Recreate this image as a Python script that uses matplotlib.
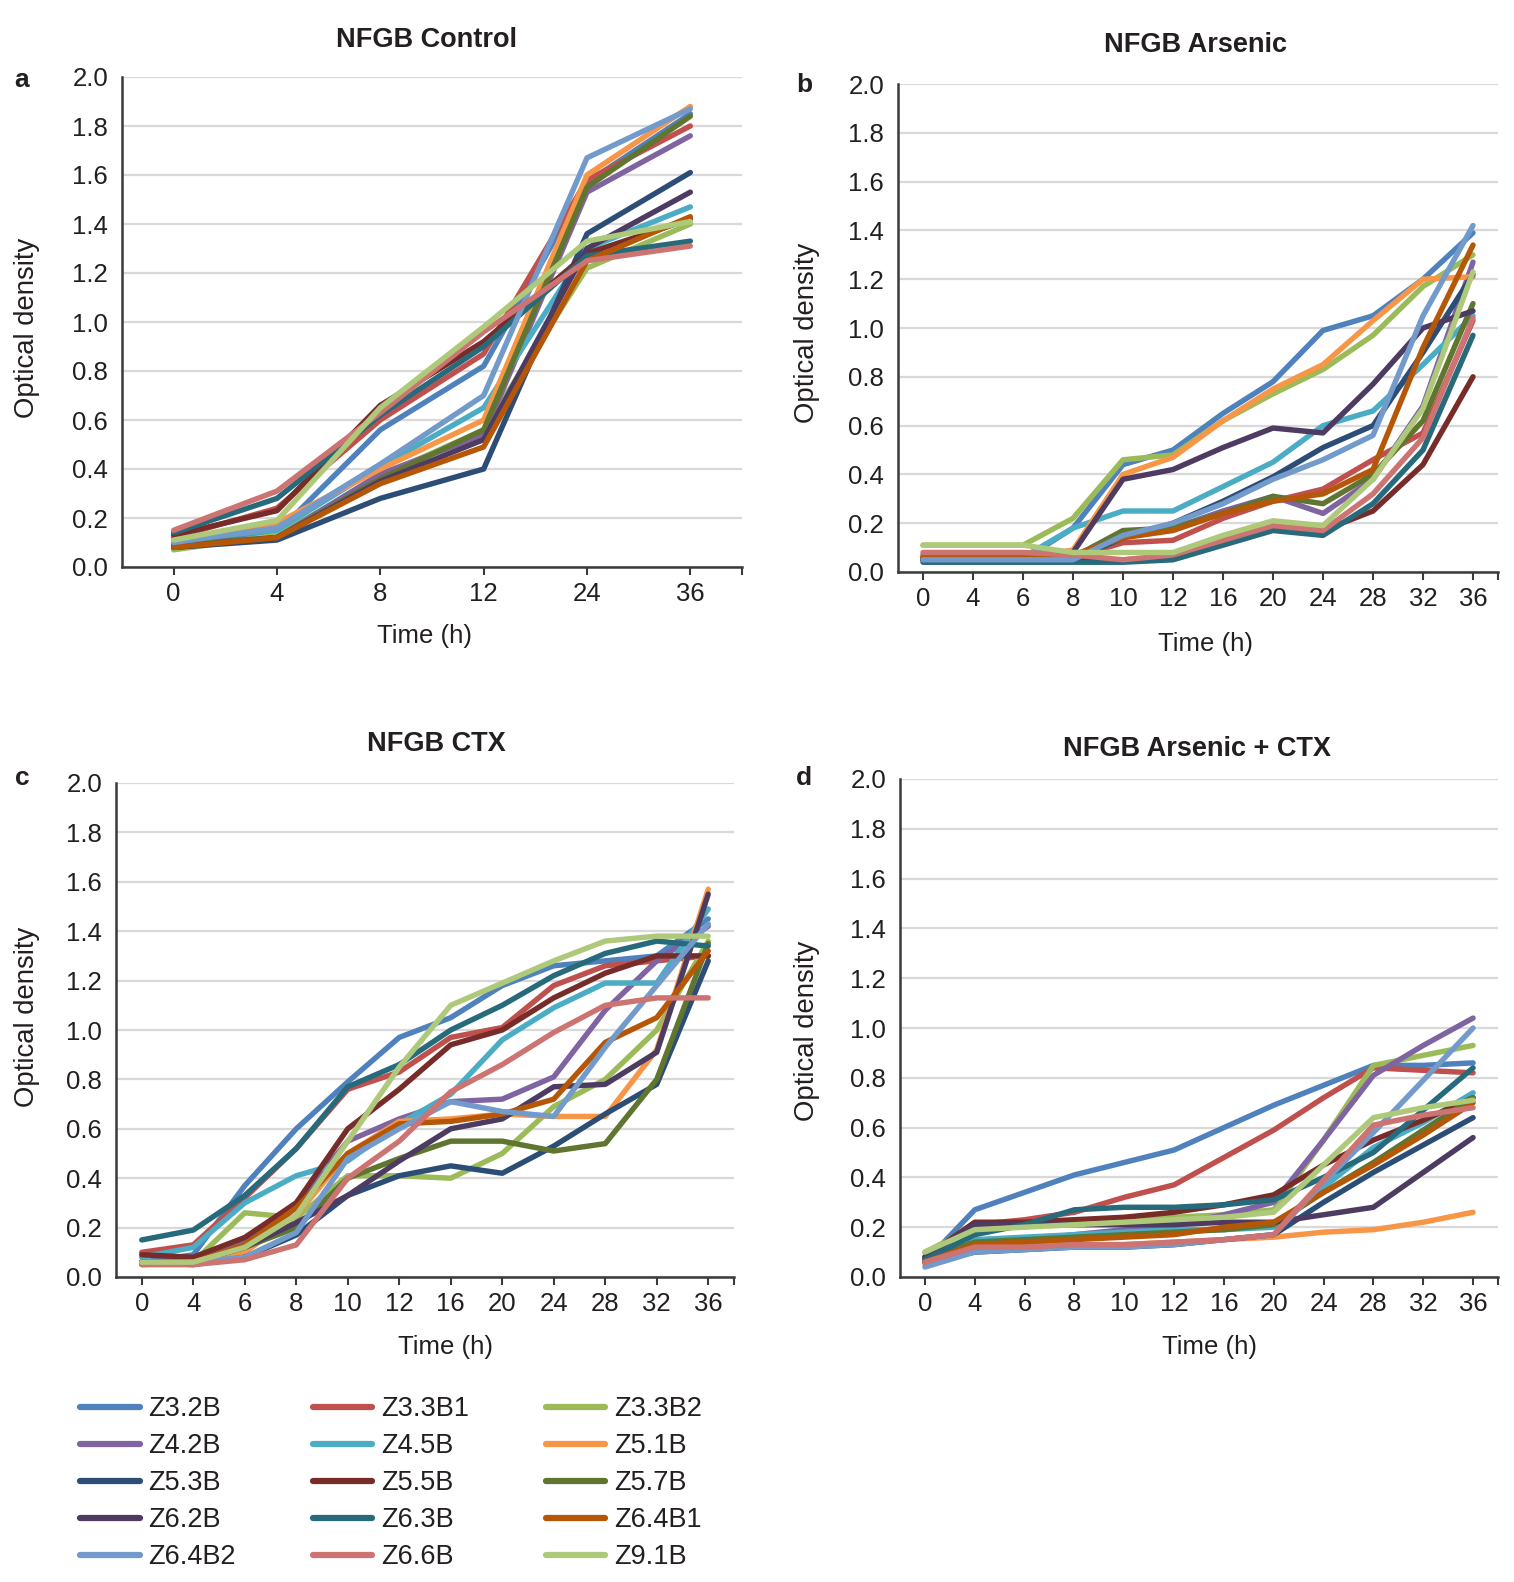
import matplotlib
matplotlib.use("Agg")
import matplotlib.pyplot as plt
from matplotlib.lines import Line2D

plt.rcParams['font.family'] = ['Liberation Sans', 'DejaVu Sans']

# strains and Excel-style colours
strains = ['Z3.2B', 'Z3.3B1', 'Z3.3B2', 'Z4.2B', 'Z4.5B', 'Z5.1B', 'Z5.3B', 'Z5.5B',
           'Z5.7B', 'Z6.2B', 'Z6.3B', 'Z6.4B1', 'Z6.4B2', 'Z6.6B', 'Z9.1B']
colors = ['#4F81BD', '#C0504D', '#9BBB59', '#8064A2', '#4BACC6', '#F79646', '#2C4D75',
          '#772C2A', '#5F7530', '#4D3B62', '#276A7C', '#B65708', '#729ACA', '#CD7371',
          '#AFC97A']

time_short = ['0', '4', '8', '12', '24', '36']
time_long = ['0', '4', '6', '8', '10', '12', '16', '20', '24', '28', '32', '36']

# a - NFGB Control (one row per strain, same order as strains)
control_od = [
    [0.10, 0.14, 0.56, 0.82, 1.57, 1.85],
    [0.12, 0.24, 0.60, 0.87, 1.58, 1.80],
    [0.07, 0.13, 0.37, 0.56, 1.22, 1.40],
    [0.09, 0.12, 0.38, 0.54, 1.53, 1.76],
    [0.11, 0.15, 0.41, 0.65, 1.30, 1.47],
    [0.10, 0.18, 0.40, 0.60, 1.60, 1.88],
    [0.08, 0.11, 0.28, 0.40, 1.36, 1.61],
    [0.13, 0.23, 0.66, 0.92, 1.28, 1.42],
    [0.09, 0.12, 0.36, 0.56, 1.55, 1.84],
    [0.08, 0.12, 0.35, 0.52, 1.30, 1.53],
    [0.14, 0.28, 0.62, 0.90, 1.27, 1.33],
    [0.08, 0.12, 0.34, 0.49, 1.25, 1.43],
    [0.10, 0.16, 0.42, 0.70, 1.67, 1.87],
    [0.15, 0.31, 0.63, 0.96, 1.25, 1.31],
    [0.11, 0.19, 0.65, 0.98, 1.33, 1.41],
]

# b - NFGB Arsenic
arsenic_od = [
    [0.05, 0.05, 0.05, 0.18, 0.44, 0.50, 0.65, 0.78, 0.99, 1.05, 1.20, 1.39],
    [0.07, 0.07, 0.07, 0.06, 0.12, 0.13, 0.22, 0.29, 0.34, 0.46, 0.57, 1.03],
    [0.11, 0.11, 0.11, 0.22, 0.46, 0.48, 0.62, 0.73, 0.83, 0.97, 1.17, 1.30],
    [0.05, 0.05, 0.05, 0.06, 0.16, 0.18, 0.25, 0.31, 0.24, 0.38, 0.68, 1.27],
    [0.06, 0.06, 0.06, 0.18, 0.25, 0.25, 0.35, 0.45, 0.60, 0.66, 0.85, 1.05],
    [0.06, 0.06, 0.06, 0.09, 0.40, 0.47, 0.62, 0.75, 0.85, 1.03, 1.20, 1.21],
    [0.05, 0.05, 0.05, 0.05, 0.14, 0.20, 0.29, 0.39, 0.51, 0.60, 0.90, 1.22],
    [0.05, 0.05, 0.05, 0.05, 0.05, 0.06, 0.12, 0.18, 0.17, 0.25, 0.44, 0.80],
    [0.06, 0.06, 0.06, 0.06, 0.17, 0.18, 0.24, 0.31, 0.28, 0.40, 0.62, 1.10],
    [0.05, 0.05, 0.05, 0.08, 0.38, 0.42, 0.51, 0.59, 0.57, 0.77, 1.00, 1.07],
    [0.04, 0.04, 0.04, 0.04, 0.04, 0.05, 0.11, 0.17, 0.15, 0.28, 0.50, 0.97],
    [0.06, 0.06, 0.06, 0.07, 0.14, 0.17, 0.24, 0.29, 0.32, 0.42, 0.92, 1.34],
    [0.05, 0.05, 0.05, 0.05, 0.15, 0.20, 0.28, 0.38, 0.46, 0.56, 1.05, 1.42],
    [0.08, 0.08, 0.08, 0.07, 0.05, 0.07, 0.13, 0.19, 0.17, 0.32, 0.55, 1.04],
    [0.11, 0.11, 0.11, 0.08, 0.08, 0.08, 0.15, 0.21, 0.19, 0.38, 0.67, 1.23],
]

# c - NFGB CTX
ctx_od = [
    [0.06, 0.09, 0.37, 0.60, 0.79, 0.97, 1.05, 1.18, 1.26, 1.28, 1.30, 1.45],
    [0.10, 0.13, 0.32, 0.52, 0.76, 0.83, 0.97, 1.01, 1.18, 1.26, 1.28, 1.30],
    [0.06, 0.06, 0.26, 0.24, 0.41, 0.41, 0.40, 0.50, 0.69, 0.80, 1.00, 1.36],
    [0.06, 0.07, 0.15, 0.30, 0.55, 0.64, 0.71, 0.72, 0.81, 1.08, 1.28, 1.42],
    [0.08, 0.12, 0.30, 0.41, 0.47, 0.62, 0.74, 0.96, 1.09, 1.19, 1.19, 1.49],
    [0.06, 0.06, 0.10, 0.25, 0.50, 0.63, 0.64, 0.66, 0.65, 0.65, 0.92, 1.57],
    [0.06, 0.05, 0.08, 0.17, 0.33, 0.41, 0.45, 0.42, 0.53, 0.66, 0.78, 1.28],
    [0.09, 0.08, 0.16, 0.30, 0.60, 0.76, 0.94, 1.00, 1.13, 1.23, 1.30, 1.30],
    [0.06, 0.06, 0.12, 0.20, 0.40, 0.48, 0.55, 0.55, 0.51, 0.54, 0.80, 1.35],
    [0.06, 0.06, 0.12, 0.22, 0.33, 0.47, 0.60, 0.64, 0.77, 0.78, 0.91, 1.55],
    [0.15, 0.19, 0.33, 0.52, 0.77, 0.86, 1.00, 1.10, 1.22, 1.31, 1.36, 1.34],
    [0.06, 0.06, 0.13, 0.28, 0.50, 0.62, 0.63, 0.66, 0.72, 0.95, 1.05, 1.32],
    [0.05, 0.06, 0.08, 0.18, 0.48, 0.60, 0.71, 0.67, 0.65, 0.93, 1.18, 1.43],
    [0.05, 0.05, 0.07, 0.13, 0.40, 0.55, 0.75, 0.86, 0.99, 1.10, 1.13, 1.13],
    [0.06, 0.06, 0.12, 0.25, 0.55, 0.85, 1.10, 1.19, 1.28, 1.36, 1.38, 1.38],
]

# d - NFGB Arsenic + CTX
arsenic_ctx_od = [
    [0.06, 0.27, 0.34, 0.41, 0.46, 0.51, 0.60, 0.69, 0.77, 0.85, 0.85, 0.86],
    [0.08, 0.21, 0.23, 0.26, 0.32, 0.37, 0.48, 0.59, 0.72, 0.84, 0.83, 0.82],
    [0.10, 0.20, 0.21, 0.22, 0.23, 0.24, 0.25, 0.27, 0.55, 0.85, 0.89, 0.93],
    [0.07, 0.13, 0.15, 0.17, 0.19, 0.21, 0.25, 0.30, 0.55, 0.81, 0.93, 1.04],
    [0.07, 0.15, 0.16, 0.17, 0.18, 0.19, 0.19, 0.20, 0.36, 0.52, 0.62, 0.74],
    [0.05, 0.11, 0.12, 0.13, 0.13, 0.14, 0.15, 0.16, 0.18, 0.19, 0.22, 0.26],
    [0.06, 0.10, 0.11, 0.12, 0.12, 0.13, 0.15, 0.17, 0.30, 0.42, 0.53, 0.64],
    [0.08, 0.22, 0.22, 0.23, 0.24, 0.26, 0.29, 0.33, 0.45, 0.55, 0.63, 0.72],
    [0.07, 0.14, 0.15, 0.16, 0.17, 0.18, 0.19, 0.21, 0.34, 0.46, 0.59, 0.72],
    [0.08, 0.21, 0.21, 0.21, 0.21, 0.21, 0.22, 0.22, 0.25, 0.28, 0.42, 0.56],
    [0.07, 0.17, 0.21, 0.27, 0.28, 0.28, 0.29, 0.31, 0.40, 0.50, 0.67, 0.84],
    [0.06, 0.13, 0.14, 0.15, 0.16, 0.17, 0.20, 0.22, 0.34, 0.45, 0.57, 0.70],
    [0.04, 0.10, 0.11, 0.12, 0.12, 0.13, 0.15, 0.17, 0.38, 0.58, 0.79, 1.00],
    [0.06, 0.12, 0.12, 0.13, 0.13, 0.14, 0.15, 0.17, 0.39, 0.61, 0.65, 0.68],
    [0.10, 0.19, 0.20, 0.21, 0.22, 0.23, 0.24, 0.26, 0.45, 0.64, 0.68, 0.71],
]

W, H = 1514, 1582
fig = plt.figure(figsize=(W / 100, H / 100), dpi=100)
TXT = '#231f20'
FS = 18.5


def px_axes(left, top, right, bottom):
    return fig.add_axes([left / W, 1 - bottom / H, (right - left) / W, (bottom - top) / H])


def draw_panel(box, labels, data, title, title_xy, letter, letter_xy, ylab_xy, xlab_xy):
    ax = px_axes(*box)
    n = len(labels)
    xs = list(range(n))
    for vals, c in zip(data, colors):
        ax.plot(xs, vals, color=c, lw=3.9, solid_joinstyle='round', solid_capstyle='round')
    ax.set_xlim(-0.5, n - 0.5)
    ax.set_ylim(0, 2.0)
    ax.set_yticks([i / 5 for i in range(11)])
    ax.set_yticklabels(['%.1f' % (i / 5) for i in range(11)])
    ax.set_xticks(xs)
    ax.set_xticklabels(labels)
    ax.set_xticks([n - 0.5], minor=True)
    ax.yaxis.grid(True, color='#d9d9d9', lw=1.6)
    ax.set_axisbelow(True)
    for s in ['top', 'right']:
        ax.spines[s].set_visible(False)
    for s in ['left', 'bottom']:
        ax.spines[s].set_color('#3a3a3a')
        ax.spines[s].set_linewidth(1.8)
    ax.tick_params(axis='y', length=0, pad=10, labelsize=FS, labelcolor=TXT)
    ax.tick_params(axis='x', which='both', direction='out', length=6, width=1.5,
                   color='#3a3a3a', pad=5, labelsize=FS, labelcolor=TXT)
    fig.text(title_xy[0] / W, 1 - title_xy[1] / H, title, ha='center', va='center',
             fontsize=19.5, fontweight='bold', color=TXT)
    fig.text(letter_xy[0] / W, 1 - letter_xy[1] / H, letter, ha='center', va='center',
             fontsize=19, fontweight='bold', color=TXT)
    fig.text(ylab_xy[0] / W, 1 - ylab_xy[1] / H, 'Optical density', rotation=90,
             ha='center', va='center', fontsize=19.8, color=TXT)
    fig.text(xlab_xy[0] / W, 1 - xlab_xy[1] / H, 'Time (h)', ha='center', va='center',
             fontsize=FS, color=TXT)
    return ax


draw_panel((122, 77, 742, 567), time_short, control_od, 'NFGB Control', (426, 40),
           'a', (22, 80), (27, 328), (424, 636))
draw_panel((898, 84, 1498, 572), time_long, arsenic_od, 'NFGB Arsenic', (1195, 45),
           'b', (804, 85), (807, 333), (1206, 644))
draw_panel((116, 783, 734, 1277), time_long, ctx_od, 'NFGB CTX', (436, 744),
           'c', (22, 778), (27, 1017), (445, 1347))
draw_panel((900, 779, 1498, 1277), time_long, arsenic_ctx_od, 'NFGB Arsenic + CTX',
           (1197, 749), 'd', (804, 778), (807, 1031), (1209, 1347))

# legend, filled row by row like the original
handles = [Line2D([], [], color=c, lw=4.5, solid_capstyle='round') for c in colors]
order = [r * 3 + c for c in range(3) for r in range(5)]
fig.legend([handles[i] for i in order], [strains[i] for i in order], ncol=3,
           loc='upper left', bbox_to_anchor=(80 / W, 1 - 1396 / H), frameon=False,
           fontsize=19.5, handlelength=2.2, handletextpad=0.33, columnspacing=2.83,
           labelspacing=0.41, borderpad=0, borderaxespad=0, labelcolor=TXT)

fig.savefig('out.png', dpi=100)
